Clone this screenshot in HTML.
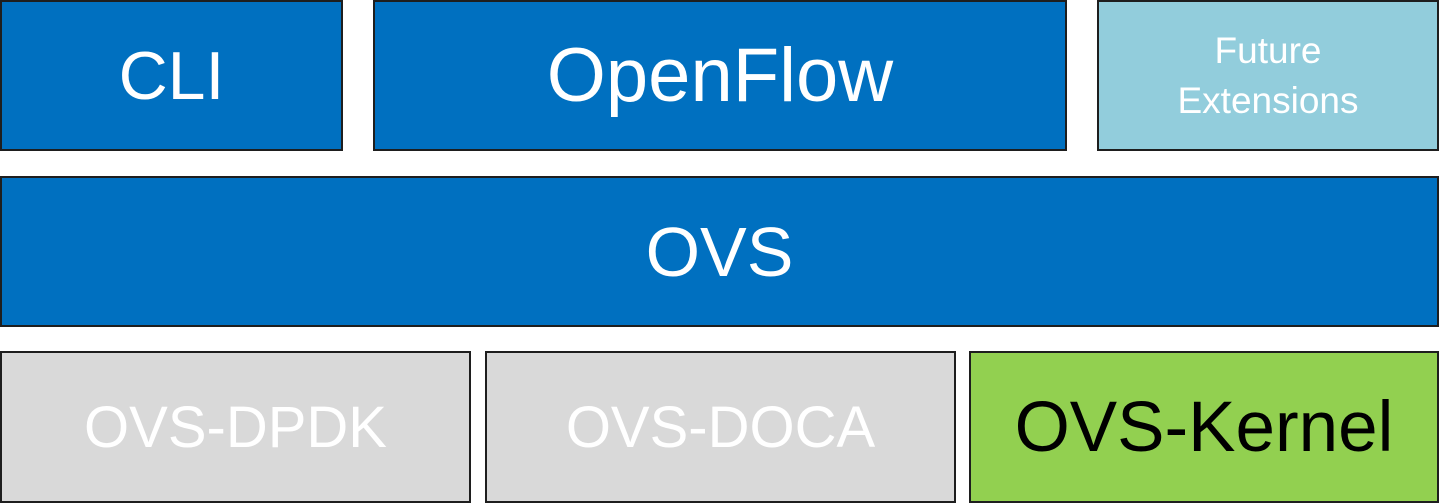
<!DOCTYPE html>
<html><head><style>
body{margin:0;width:1440px;height:503px;background:#fff;position:relative;overflow:hidden;font-family:"Liberation Sans",sans-serif}
.b{position:absolute;box-sizing:border-box;border:2px solid #1e1e1e;display:flex;align-items:center;justify-content:center;color:#fff;text-align:center}
.bl{background:#0070c0}
</style></head><body>
<div class="b bl" style="left:0;top:0;width:343px;height:151px;font-size:68px">CLI</div>
<div class="b bl" style="left:373px;top:0;width:694px;height:151px;font-size:76px">OpenFlow</div>
<div class="b" style="left:1097px;top:0;width:342px;height:151px;background:#92cddc;font-size:37px;line-height:50px">Future<br>Extensions</div>
<div class="b bl" style="left:0;top:176px;width:1439px;height:151px;font-size:70px">OVS</div>
<div class="b" style="left:0;top:351px;width:471px;height:152px;background:#d9d9d9;font-size:58px">OVS-DPDK</div>
<div class="b" style="left:485px;top:351px;width:471px;height:152px;background:#d9d9d9;font-size:58px">OVS-DOCA</div>
<div class="b" style="left:969px;top:351px;width:470px;height:152px;background:#92d050;color:#000;font-size:71px">OVS-Kernel</div>
</body></html>
